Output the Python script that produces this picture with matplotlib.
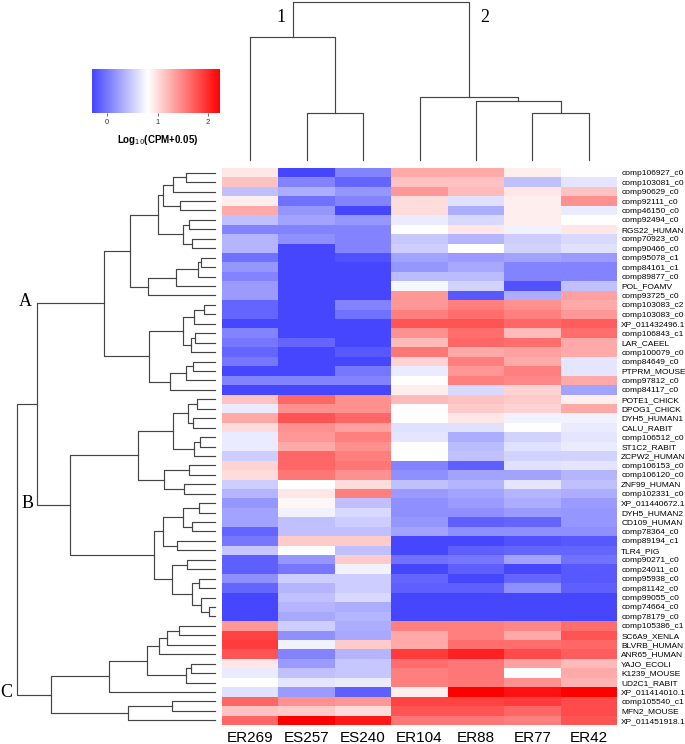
import numpy as np
import matplotlib
matplotlib.use('Agg')
import matplotlib.pyplot as plt
from matplotlib.colors import LinearSegmentedColormap, Normalize
from matplotlib.cm import ScalarMappable

plt.rcParams['font.family'] = ['Liberation Sans', 'DejaVu Sans']

# 样本 (列) 和基因 (行)
samples = ['ER269', 'ES257', 'ES240', 'ER104', 'ER88', 'ER77', 'ER42']
genes = ['comp106927_c0', 'comp103081_c0', 'comp90629_c0', 'comp92111_c0', 'comp46150_c0',
         'comp92494_c0', 'RGS22_HUMAN', 'comp70923_c0', 'comp90466_c0', 'comp95078_c1',
         'comp84161_c1', 'comp89877_c0', 'POL_FOAMV', 'comp93725_c0', 'comp103083_c2',
         'comp103083_c0', 'XP_011432496.1', 'comp106843_c1', 'LAR_CAEEL', 'comp100079_c0',
         'comp84649_c0', 'PTPRM_MOUSE', 'comp97812_c0', 'comp84117_c0', 'POTE1_CHICK',
         'DPOG1_CHICK', 'DYH5_HUMAN1', 'CALU_RABIT', 'comp106512_c0', 'ST1C2_RABIT',
         'ZCPW2_HUMAN', 'comp106153_c0', 'comp106120_c0', 'ZNF99_HUMAN', 'comp102331_c0',
         'XP_011440672.1', 'DYH5_HUMAN2', 'CD109_HUMAN', 'comp78364_c0', 'comp89194_c1',
         'TLR4_PIG', 'comp90271_c0', 'comp24011_c0', 'comp95938_c0', 'comp81142_c0',
         'comp99055_c0', 'comp74664_c0', 'comp78179_c0', 'comp105386_c1', 'SC6A9_XENLA',
         'BLVRB_HUMAN', 'ANR65_HUMAN', 'YAJO_ECOLI', 'K1239_MOUSE', 'UD2C1_RABIT',
         'XP_011414010.1', 'comp105540_c1', 'MFN2_MOUSE', 'XP_011451918.1']

# log10(CPM+0.05)
expr = np.array([
    [0.94, -0.30, 0.07, 1.28, 1.28, 0.90, 0.80],
    [1.14, 0.07, -0.12, 1.14, 1.14, 0.43, 0.65],
    [0.43, 0.32, 0.18, 1.38, 1.18, 0.94, 1.14],
    [0.90, -0.04, 0.07, 0.99, 0.62, 0.90, 1.42],
    [1.28, 0.18, -0.30, 0.99, 0.32, 0.90, 0.69],
    [0.43, 0.25, 0.18, 0.69, 0.58, 0.90, 0.80],
    [0.07, 0.07, 0.07, 0.80, 0.94, 0.73, 0.94],
    [0.36, 0.14, 0.07, 0.47, 0.36, 0.51, 0.58],
    [0.36, -0.30, 0.07, 0.51, 0.80, 0.54, 0.62],
    [-0.04, -0.30, -0.23, 0.25, 0.21, 0.25, 0.21],
    [0.18, -0.30, -0.30, 0.18, 0.29, 0.07, 0.07],
    [0.07, -0.30, -0.30, 0.40, 0.40, 0.07, 0.07],
    [0.21, -0.30, -0.30, 0.76, 0.54, -0.23, 0.43],
    [0.21, -0.30, -0.30, 1.38, -0.19, 0.32, 1.33],
    [-0.12, -0.30, 0.07, 1.38, 1.52, 1.42, 1.28],
    [-0.12, -0.30, -0.04, 1.52, 1.62, 1.52, 1.38],
    [-0.30, -0.30, -0.30, 1.76, 1.76, 1.66, 1.71],
    [0.07, -0.30, -0.30, 1.42, 1.62, 1.18, 1.62],
    [-0.01, -0.12, -0.30, 1.18, 1.66, 1.62, 1.28],
    [-0.12, -0.30, -0.19, 1.57, 1.28, 1.33, 1.28],
    [-0.01, -0.30, -0.30, 1.04, 1.52, 1.28, 0.65],
    [-0.30, -0.30, -0.01, 0.69, 1.38, 1.52, 0.65],
    [0.07, 0.07, 0.07, 0.80, 1.52, 1.47, 1.28],
    [-0.30, -0.30, -0.30, 0.90, 0.58, 1.04, 0.25],
    [1.14, 1.66, 1.42, 1.18, 1.14, 1.09, 0.90],
    [0.69, 1.42, 1.42, 0.80, 1.09, 1.04, 1.28],
    [1.28, 1.76, 1.66, 0.80, 0.94, 0.73, 0.73],
    [0.99, 1.42, 1.33, 0.62, 0.62, 0.80, 0.69],
    [0.69, 1.38, 1.52, 0.65, 0.32, 0.54, 0.65],
    [0.69, 1.28, 1.42, 0.80, 0.40, 0.62, 0.69],
    [0.51, 1.66, 1.52, 0.80, 0.43, 0.54, 0.54],
    [1.04, 1.66, 1.57, 0.07, -0.15, 0.62, 0.65],
    [0.99, 1.57, 1.42, 0.14, 0.25, 0.25, 0.36],
    [0.51, 0.80, 0.99, 0.43, 0.36, 0.65, 0.43],
    [0.36, 0.94, 1.52, 0.21, 0.25, 0.36, 0.32],
    [0.18, 0.85, 0.43, 0.14, 0.21, 0.32, 0.21],
    [0.25, 0.73, 0.58, 0.14, 0.14, 0.21, 0.18],
    [0.25, 0.43, 0.51, 0.18, -0.15, -0.12, 0.18],
    [-0.12, 0.43, 0.43, 0.25, 0.14, 0.14, 0.14],
    [-0.01, 1.09, 1.09, -0.30, -0.30, -0.23, -0.19],
    [0.47, 0.80, 0.43, -0.30, -0.15, -0.12, -0.12],
    [-0.15, 0.18, 1.09, -0.04, -0.01, 0.25, -0.04],
    [-0.15, -0.01, 0.73, -0.30, -0.15, -0.30, -0.19],
    [0.14, 0.51, 0.51, -0.12, -0.30, -0.12, -0.19],
    [-0.12, 0.36, 0.51, -0.15, -0.15, 0.14, -0.15],
    [-0.30, 0.43, 0.58, -0.30, -0.30, -0.30, -0.30],
    [-0.30, 0.36, 0.32, -0.30, -0.30, -0.30, -0.30],
    [-0.30, 0.29, 0.36, -0.30, -0.30, -0.30, -0.30],
    [1.38, 0.51, 0.32, 1.52, 1.52, 1.47, 1.62],
    [1.86, 0.14, 0.29, 1.28, 1.52, 1.28, 1.76],
    [1.90, 0.73, 1.09, 1.28, 1.62, 1.62, 1.66],
    [1.76, 0.07, 0.36, 1.90, 2.05, 1.81, 1.71],
    [0.94, 0.21, 0.47, 1.62, 1.57, 1.33, 1.18],
    [0.69, 0.43, 0.47, 1.52, 1.57, 0.80, 1.28],
    [0.80, 0.65, 0.69, 1.52, 1.57, 1.42, 1.23],
    [0.62, 0.21, -0.15, 0.90, 2.24, 2.14, 2.24],
    [1.66, 1.42, 1.38, 1.86, 1.86, 1.90, 1.81],
    [1.14, 1.09, 0.99, 1.76, 1.76, 1.66, 1.81],
    [1.66, 2.24, 2.10, 1.57, 1.57, 1.52, 1.76],
])

# 聚类树: (左, 右, 高度), 叶子为行/列序号
col_tree = ((0, (1, 2, 47.3), 123.3), (3, (4, (5, 6, 47.0), 59.3), 63.0), 158.3)

tree_A = (
    (((((0, 1, 29.3), 2, 41.7), (3, 4, 34.7), 51.7), ((5, 6, 26.0), (7, 8, 22.7), 32.3), 57.3),
     ((((9, 10, 14.0), 11, 17.3), 12, 39.0), 13, 67.3), 85.0),
    ((((14, 15, 10.7), 16, 20.7), ((17, 18, 20.3), 19, 24.3), 32.0),
     (((20, 21, 22.3), 22, 29.0), 23, 45.0), 66.0),
    110.7)
tree_B = (
    ((((24, 25, 18.3), (26, 27, 22.3), 27.3), ((28, 29, 15.0), 30, 20.7), 41.7),
     ((31, 32, 25.7), (33, 34, 30.7), 50.7), 77.3),
    ((((35, 36, 15.7), (37, 38, 22.7), 32.3), (39, 40, 38.3), 51.7),
     ((41, 42, 28.3), ((43, 44, 16.0), (45, (46, 47, 5.7), 14.0), 23.3), 42.7), 60.7),
    145.0)
tree_C = (
    (((((48, 49, 35.7), 50, 48.3), 51, 56.0), ((52, 53, 24.0), 54, 29.3), 68.3), 55, 105.7),
    ((56, 57, 43.3), 58, 86.7),
    164.0)
row_tree = ((tree_A, tree_B, 178.3), tree_C, 198.3)

W, H = 685, 744


def box(x0, y0, x1, y1):
    # 像素 -> figure 坐标
    return [x0 / W, 1 - y1 / H, (x1 - x0) / W, (y1 - y0) / H]


def draw_tree(ax, node, horizontal):
    if isinstance(node, int):
        return node + 0.5, 0.0
    left, right, h = node
    p1, h1 = draw_tree(ax, left, horizontal)
    p2, h2 = draw_tree(ax, right, horizontal)
    if horizontal:
        ax.plot([h1, h, h, h2], [p1, p1, p2, p2], color='#444444', lw=0.85, clip_on=False)
    else:
        ax.plot([p1, p1, p2, p2], [h1, h, h, h2], color='#444444', lw=0.85, clip_on=False)
    return (p1 + p2) / 2, h


fig = plt.figure(figsize=(W / 100, H / 100), dpi=100)

cmap = LinearSegmentedColormap.from_list('bwr_log', [(0, '#4646ff'), (0.433, '#ffffff'), (1, '#ff0000')])
norm = Normalize(vmin=-0.3, vmax=2.24)

# 热图
ax = fig.add_axes(box(222, 168, 617, 725))
ax.imshow(expr, aspect='auto', cmap=cmap, norm=norm, interpolation='nearest',
          extent=(0, len(samples), len(genes), 0))
ax.set_xticks(np.arange(len(samples)) + 0.5)
ax.set_xticklabels(samples, fontsize=11)
ax.yaxis.tick_right()
ax.set_yticks(np.arange(len(genes)) + 0.5)
ax.set_yticklabels(genes, fontsize=6)
ax.tick_params(length=0, pad=3)
ax.tick_params(axis='x', pad=4)
for s in ax.spines.values():
    s.set_visible(False)

# 行聚类
axr = fig.add_axes(box(0, 168, 215, 725))
draw_tree(axr, row_tree, True)
axr.set_xlim(215, 0)
axr.set_ylim(len(genes), 0)
axr.axis('off')
serif = ['Liberation Serif', 'DejaVu Serif']
axr.text(190, 14.1, 'A', family=serif, fontsize=13, ha='center', va='center')
axr.text(187, 35.5, 'B', family=serif, fontsize=13, ha='center', va='center')
axr.text(209, 55.6, 'C', family=serif, fontsize=13, ha='center', va='center')

# 列聚类
axc = fig.add_axes(box(222, 0, 617, 160))
draw_tree(axc, col_tree, False)
axc.set_xlim(0, len(samples))
axc.set_ylim(0, 160)
axc.axis('off')
axc.text(1.05, 142, '1', family=serif, fontsize=13, ha='center', va='center')
axc.text(4.65, 142, '2', family=serif, fontsize=13, ha='center', va='center')

# 色标
cax = fig.add_axes(box(92, 69, 220, 113))
cb = fig.colorbar(ScalarMappable(norm=norm, cmap=cmap), cax=cax, orientation='horizontal')
cb.outline.set_visible(False)
cb.set_ticks([0, 1, 2])
cb.ax.tick_params(labelsize=5.5, length=2, width=0.5, pad=2, colors='#333333')
fig.text(158 / W, 1 - 140 / H, r'Log$_{10}$(CPM+0.05)', fontsize=7, fontweight='bold',
         ha='center', va='center')

fig.savefig('out.png', dpi=100)
